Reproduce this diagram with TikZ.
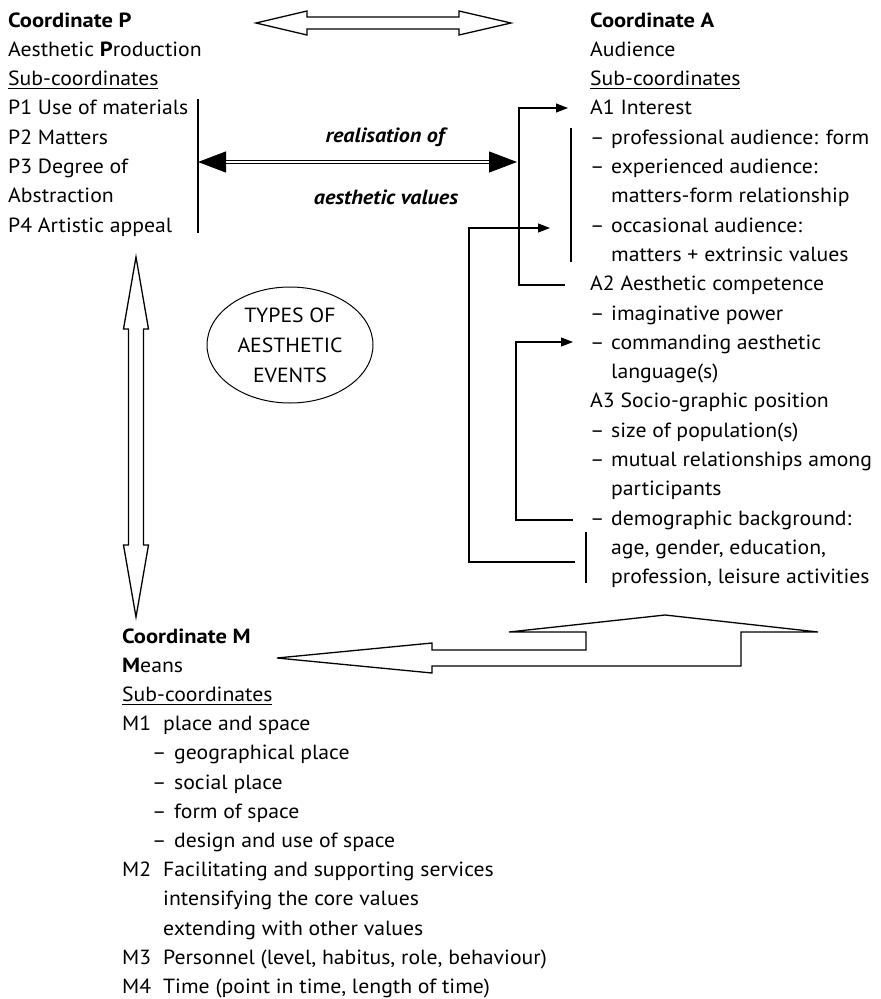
\documentclass[tikz,border=0pt]{standalone}
\usepackage{fontspec}
\setmainfont{PT Sans}[FakeStretch=1.06,
  BoldFeatures={FakeStretch=1.10},
  BoldItalicFeatures={FakeStretch=1.08}]
\usetikzlibrary{arrows.meta,shapes.geometric}

% underline sitting just below the baseline
\newcommand\subline[1]{\setbox0\hbox{#1}\rlap{\rule[-3.6pt]{\wd0}{1.1pt}}\box0}
% dash-led list entry and label-led entry
\newcommand\dashA[1]{\makebox[21pt][l]{–}#1}
\newcommand\dashM[1]{\makebox[22pt][l]{–}#1}
\newcommand\labM[2]{\makebox[41pt][l]{#1}#2}

\begin{document}
\begin{tikzpicture}[x=1pt,y=-1pt,
  txt/.style={anchor=base west,inner sep=0pt,font=\fontsize{20.5}{24}\selectfont},
  lbl/.style={inner sep=0pt,font=\fontsize{20.5}{24}\selectfont\bfseries\itshape},
  conn/.style={line width=1.1pt},
  arr/.style={conn,-{Triangle[length=12pt,width=9pt]}},
  hollow/.style={draw,line width=1.3pt,fill=white,line join=miter},
  event/.style={draw,ellipse,line width=1pt,inner sep=0pt,minimum width=166pt,
    minimum height=116pt,align=center,font=\fontsize{20.5}{30}\selectfont}
]
\useasboundingbox (0,0) rectangle (881,999);

% ---------- Coordinate P ----------
\node[txt] (p0) at (8,27)    {\textbf{Coordinate P}};
\node[txt] (p1) at (8,56.3)  {Aesthetic \textbf{P}roduction};
\node[txt] (p2) at (8,85.6)  {\subline{Sub-coordinates}};
\node[txt] (p3) at (8,114.9) {P1 Use of materials};
\node[txt] (p4) at (8,144.2) {P2 Matters};
\node[txt] (p5) at (8,173.5) {P3 Degree of};
\node[txt] (p6) at (8,202.8) {Abstraction};
\node[txt] (p7) at (8,232.1) {P4 Artistic appeal};

% ---------- Coordinate A ----------
\node[txt] (a0)  at (590,27)    {\textbf{Coordinate A}};
\node[txt] (a1)  at (590,56.3)  {Audience};
\node[txt] (a2)  at (590,85.6)  {\subline{Sub-coordinates}};
\node[txt] (a3)  at (590,114.9) {A1 Interest};
\node[txt] (a4)  at (590,144.2) {\dashA{professional audience: form}};
\node[txt] (a5)  at (590,173.5) {\dashA{experienced audience:}};
\node[txt] (a6)  at (611,202.8) {matters-form relationship};
\node[txt] (a7)  at (590,232.1) {\dashA{occasional audience:}};
\node[txt] (a8)  at (611,261.4) {matters + extrinsic values};
\node[txt] (a9)  at (590,290.7) {A2 Aesthetic competence};
\node[txt] (a10) at (590,320)   {\dashA{imaginative power}};
\node[txt] (a11) at (590,349.3) {\dashA{commanding aesthetic}};
\node[txt] (a12) at (611,378.6) {language(s)};
\node[txt] (a13) at (590,407.9) {A3 Socio-graphic position};
\node[txt] (a14) at (590,437.2) {\dashA{size of population(s)}};
\node[txt] (a15) at (590,466.5) {\dashA{mutual relationships among}};
\node[txt] (a16) at (611,495.8) {participants};
\node[txt] (a17) at (590,525.1) {\dashA{demographic background:}};
\node[txt] (a18) at (611,554.4) {age, gender, education,};
\node[txt] (a19) at (611,583.7) {profession, leisure activities};

% ---------- Coordinate M ----------
\node[txt] (m0)  at (122,643)   {\textbf{Coordinate M}};
\node[txt] (m1)  at (122,672.2) {\textbf{M}eans};
\node[txt] (m2)  at (122,701.4) {\subline{Sub-coordinates}};
\node[txt] (m3)  at (122,730.6) {\labM{M1}{place and space}};
\node[txt] (m4)  at (152,759.8) {\dashM{geographical place}};
\node[txt] (m5)  at (152,789)   {\dashM{social place}};
\node[txt] (m6)  at (152,818.2) {\dashM{form of space}};
\node[txt] (m7)  at (152,847.4) {\dashM{design and use of space}};
\node[txt] (m8)  at (122,876.6) {\labM{M2}{Facilitating and supporting services}};
\node[txt] (m9)  at (163,905.8) {intensifying the core values};
\node[txt] (m10) at (163,935)   {extending with other values};
\node[txt] (m11) at (122,964.2) {\labM{M3}{Personnel (level, habitus, role, behaviour)}};
\node[txt] (m12) at (122,993.4) {\labM{M4}{Time (point in time, length of time)}};

% ---------- centre ellipse ----------
\node[event] (types) at (290,345) {TYPES OF\\AESTHETIC\\EVENTS};

% ---------- realisation arrow ----------
\node[lbl] (real1) at (385,137) {realisation of};
\node[lbl] (real2) at (386,197) {aesthetic values};
\coordinate (pbarTop) at (198,99);
\coordinate (pbarBot) at (198,233);
\draw[conn] (pbarTop) -- (pbarBot);
\coordinate (realL) at (198,162);
\coordinate (realR) at (517,162);
\draw[line width=1.1pt,double,double distance=2.4pt,
  {Triangle[length=28pt,width=21pt]}-{Triangle[length=28pt,width=21pt]}] (realL) -- (realR);

% ---------- bracket: interest / competence ----------
\coordinate (iTop) at (519,108);
\coordinate (iBot) at (519,285);
\coordinate (iTip) at (568,108);
\coordinate (iEnd) at (565,285);
\draw[arr] (iEnd) -- (iBot) -- (iTop) -- (iTip);
\coordinate (iBarTop) at (571,128);
\coordinate (iBarBot) at (571,262);
\draw[conn] (iBarTop) -- (iBarBot);

% ---------- bracket: demographic background -> occasional audience ----------
\coordinate (dEnd) at (575,562);
\coordinate (dBot) at (469,562);
\coordinate (dTop) at (469,228);
\coordinate (dTip) at (550,228);
\draw[arr] (dEnd) -- (dBot) -- (dTop) -- (dTip);
\coordinate (dBarTop) at (586,532);
\coordinate (dBarBot) at (586,583);
\draw[conn] (dBarTop) -- (dBarBot);

% ---------- bracket: demographic background -> commanding language ----------
\coordinate (cEnd) at (573,520);
\coordinate (cBot) at (516,520);
\coordinate (cTop) at (516,342);
\coordinate (cTip) at (573,342);
\draw[arr] (cEnd) -- (cBot) -- (cTop) -- (cTip);

% ---------- hollow block arrows ----------
% P <-> A
\draw[hollow] (256,23) -- (307,11) -- (307,17) -- (459,17) -- (459,11) -- (511,23)
  -- (459,35) -- (459,29) -- (307,29) -- (307,35) -- cycle;
% P <-> M
\draw[hollow] (136,257) -- (148.5,329) -- (143.5,329) -- (143.5,545) -- (148.5,545)
  -- (136,617) -- (123.5,545) -- (128.5,545) -- (128.5,329) -- (123.5,329) -- cycle;
% A <-> M
\draw[hollow] (277,658) -- (432,643) -- (432,650) -- (586,650) -- (586,632) -- (509,632)
  -- (665,615) -- (818,632) -- (741,632) -- (741,666) -- (432,666) -- (432,673) -- cycle;
\end{tikzpicture}
\end{document}
